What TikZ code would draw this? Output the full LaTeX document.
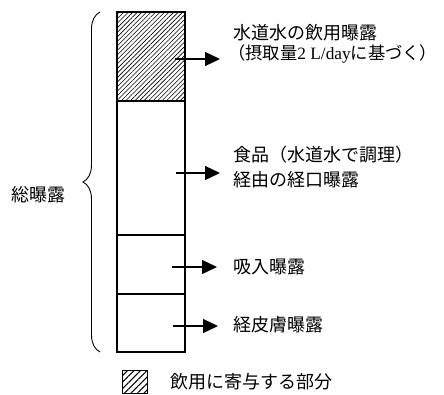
\documentclass[tikz,border=0pt]{standalone}
\usepackage{fontspec}
\setmainfont{Noto Sans CJK JP}
\newfontfamily\latfont{Liberation Serif}
\usetikzlibrary{patterns.meta,decorations.pathreplacing,arrows.meta}
\begin{document}
\begin{tikzpicture}[x=1pt,y=-1pt,
  sec/.style={draw,line width=1.3pt,minimum width=68pt,inner sep=0pt},
  hatch/.style={pattern={Lines[angle=45,distance=3.2pt,line width=0.6pt]}},
  lghatch/.style={pattern={Lines[angle=45,distance=4.6pt,line width=1pt]}},
  arr/.style={line width=1.3pt,-{Triangle[length=15pt,width=14pt]}},
  lab/.style={anchor=west,inner sep=0pt,font=\fontsize{18}{20}\selectfont}]
\useasboundingbox (0,0) rectangle (444,394);
% stacked bar
\node[sec,hatch,minimum height=89pt] (s1) at (151,56.5) {};
\node[sec,minimum height=134pt] (s2) at (151,168) {};
\node[sec,minimum height=59pt] (s3) at (151,264.5) {};
\node[sec,minimum height=58pt] (s4) at (151,323) {};
% brace
\draw[line width=0.9pt,decorate,decoration={brace,amplitude=17pt,aspect=0.5}] (100,352) -- (100,12);
\node[lab,anchor=center] (tot) at (38,195) {総曝露};
% labels
\node[lab] (l1a) at (233,33) {水道水の飲用曝露};
\node[lab,font=\fontsize{17.3}{20}\selectfont] (l1b) at (228,54) {（摂取量{\latfont 2 L/day}に基づく）};
\node[lab] (l2a) at (233,155) {食品（水道水で調理）};
\node[lab] (l2b) at (233,180) {経由の経口曝露};
\node[lab] (l3) at (233,267) {吸入曝露};
\node[lab] (l4) at (233,325) {経皮膚曝露};
% arrows
\coordinate (a1) at (175,59);  \coordinate (b1) at (220,59);
\coordinate (a2) at (176,173); \coordinate (b2) at (220,173);
\coordinate (a3) at (172,267); \coordinate (b3) at (217,267);
\coordinate (a4) at (173,326); \coordinate (b4) at (218,326);
\draw[arr] (a1) -- (b1);
\draw[arr] (a2) -- (b2);
\draw[arr] (a3) -- (b3);
\draw[arr] (a4) -- (b4);
% legend
\node[draw,line width=1pt,lghatch,minimum width=25pt,minimum height=23pt,inner sep=0pt] (lg) at (134.5,382) {};
\node[lab] (lgt) at (170,382) {飲用に寄与する部分};
\end{tikzpicture}
\end{document}
